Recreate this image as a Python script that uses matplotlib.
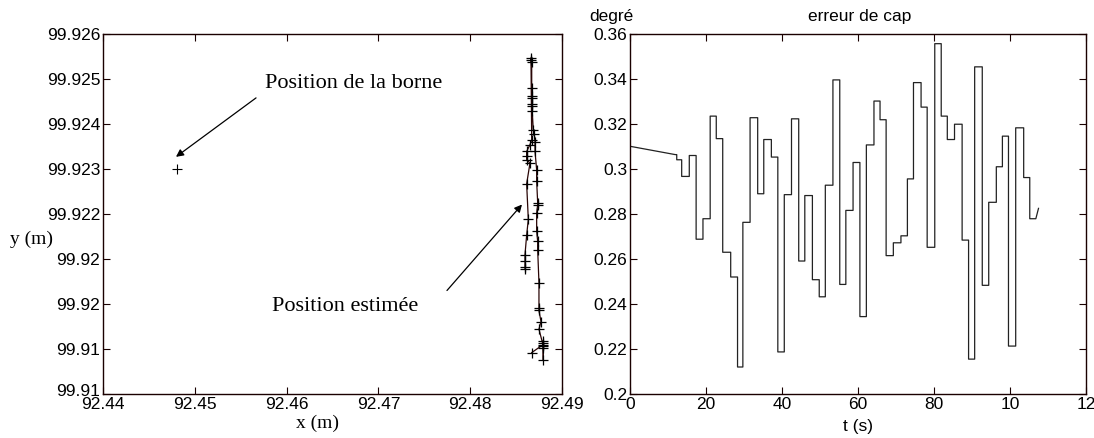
import numpy as np
import matplotlib
matplotlib.use("Agg")
import matplotlib.pyplot as plt
import matplotlib.transforms as mtransforms

# ---- Estimated positions (m) ----
pos_x = [92.48670, 92.48796, 92.48796, 92.48796, 92.48796, 92.48796, 92.48796,
         92.48749, 92.48771, 92.48749, 92.48749, 92.48749, 92.48735, 92.48735,
         92.48724, 92.48724, 92.48735, 92.48735, 92.48724, 92.48724, 92.48706,
         92.48706, 92.48698, 92.48687, 92.48676, 92.48670, 92.48670, 92.48670,
         92.48670, 92.48670, 92.48670, 92.48662, 92.48662,
         92.48670, 92.48651, 92.48615, 92.48615, 92.48615, 92.48651, 92.48615,
         92.48633, 92.48615, 92.48597, 92.48597, 92.48597, 92.48597]
pos_y = [99.91892, 99.91910, 99.91918, 99.91903, 99.91876, 99.91914, 99.91907,
         99.91944, 99.91961, 99.91986, 99.91992, 99.92047, 99.92121, 99.92139,
         99.92162, 99.92202, 99.92221, 99.92225, 99.92273, 99.92298, 99.92339,
         99.92361, 99.92378, 99.92387, 99.92428, 99.92441, 99.92444, 99.92457,
         99.92463, 99.92481, 99.92537, 99.92542, 99.92547,
         99.92365, 99.92354, 99.92339, 99.92328, 99.92321, 99.92313, 99.92267,
         99.92188, 99.92153, 99.92110, 99.92095, 99.92083, 99.92078]

# Beacon position (m)
borne_x = 92.44806
borne_y = 99.92300

# Left-axis ticks
xy_xticks = [92.44, 92.45, 92.46, 92.47, 92.48, 92.49]
xy_xticklabels = ["92.44", "92.45", "92.46", "92.47", "92.48", "92.49"]
xy_yticks = [99.918, 99.919, 99.920, 99.921, 99.922, 99.923, 99.924, 99.925, 99.926]
xy_yticklabels = ["99.91", "99.91", "99.92", "99.92", "99.922", "99.923",
                  "99.924", "99.925", "99.926"]

# ---- Heading error (degrees) ----
cap_t0, cap_v0 = 0.0, 0.3101
cap_t1, cap_v1 = 11.9, 0.3064
cap_switch_t = [12.3, 13.6, 15.6, 17.4, 19.2, 21.1, 22.7, 24.4, 26.5, 28.3,
                29.7, 31.6, 33.6, 35.2, 37.2, 38.9, 40.6, 42.5, 44.4, 46.0,
                48.0, 49.8, 51.4, 53.4, 55.2, 56.8, 58.7, 60.5, 62.2, 64.2,
                65.8, 67.4, 69.3, 71.3, 73.0, 74.6, 76.6, 78.2, 80.2, 81.9,
                83.5, 85.4, 87.4, 89.1, 90.7, 92.7, 94.4, 96.4, 98.0, 99.6,
                101.5, 103.6, 105.2]
cap_switch_v = [0.3041, 0.2967, 0.3060, 0.2688, 0.2779, 0.3235, 0.3135, 0.2630,
                0.2520, 0.2120, 0.2763, 0.3228, 0.2890, 0.3131, 0.3053, 0.2187,
                0.2886, 0.3223, 0.2591, 0.2882, 0.2508, 0.2432, 0.2928, 0.3396,
                0.2487, 0.2816, 0.3029, 0.2344, 0.3107, 0.3302, 0.3219, 0.2615,
                0.2672, 0.2703, 0.2956, 0.3384, 0.3275, 0.2652, 0.3557, 0.3235,
                0.3131, 0.3199, 0.2684, 0.2155, 0.3454, 0.2483, 0.2852, 0.3010,
                0.3146, 0.2213, 0.3183, 0.2962, 0.2779]
cap_tend_hold, cap_tend, cap_vend = 106.8, 107.5, 0.2825

cap_xticks = [0, 20, 40, 60, 80, 100, 120]
cap_xticklabels = ["0", "20", "40", "60", "80", "10", "12"]
cap_yticks = [0.20, 0.22, 0.24, 0.26, 0.28, 0.30, 0.32, 0.34, 0.36]
cap_yticklabels = ["0.2", "0.22", "0.24", "0.26", "0.28", "0.3", "0.32", "0.34", "0.36"]

SANS = ["Liberation Sans", "DejaVu Sans"]
SERIF = ["Liberation Serif", "DejaVu Serif"]
plt.rcParams["font.family"] = SANS

W, H = 1094, 438
fig = plt.figure(figsize=(W / 100, H / 100), dpi=100)
fig.patch.set_facecolor("white")

spine_col = "#1a0000"


def style_axes(ax):
    for s in ax.spines.values():
        s.set_color(spine_col)
        s.set_linewidth(1.0)
    ax.tick_params(direction="in", length=5, width=0.8, color=spine_col,
                   top=True, right=True, labelsize=12.5, pad=2,
                   labelcolor="black")


# ---------------- Left: positions ----------------
ax1 = fig.add_axes([103 / W, 1 - 394 / H, 459 / W, 360 / H])
style_axes(ax1)
ax1.plot(pos_x, pos_y, "-", color="#2a0606", lw=0.9, zorder=2)
ax1.plot(pos_x, pos_y, "+", color="black", ms=6.5, mew=0.9, zorder=3)
ax1.plot([borne_x], [borne_y], "+", color="black", ms=6.5, mew=0.8)
ax1.set_xlim(92.44, 92.49)
ax1.set_ylim(99.918, 99.926)
ax1.set_xticks(xy_xticks)
ax1.set_xticklabels(xy_xticklabels)
ax1.set_yticks(xy_yticks)
ax1.set_yticklabels(xy_yticklabels)

# lift the lowest y label a little so it clears the first x label
low_lbl = ax1.get_yticklabels()[0]
low_lbl.set_transform(low_lbl.get_transform() +
                      mtransforms.ScaledTranslation(0, 4 / 100, fig.dpi_scale_trans))

arrow = dict(arrowstyle="-|>", mutation_scale=11, lw=0.9, color="black",
             shrinkA=0, shrinkB=0)
ax1.annotate("", xy=(92.44795, 99.92327), xytext=(92.45667, 99.92458),
             arrowprops=arrow)
ax1.text(92.45765, 99.92491, "Position de la borne", family=SERIF,
         fontsize=16, ha="left", va="center")
ax1.annotate("", xy=(92.48564, 99.92221), xytext=(92.47747, 99.92030),
             arrowprops=arrow)
ax1.text(92.45841, 99.91995, "Position estimée", family=SERIF,
         fontsize=16, ha="left", va="center")

fig.text(318 / W, 1 - 423 / H, "x (m)", family=SERIF, fontsize=14,
         ha="center", va="center")
fig.text(31 / W, 1 - 239 / H, "y (m)", family=SERIF, fontsize=14,
         ha="center", va="center")

# ---------------- Right: heading error ----------------
ax2 = fig.add_axes([630 / W, 1 - 394 / H, 456 / W, 360 / H])
style_axes(ax2)

# zero-order hold trace, with straight joins at both ends
tx = [cap_t0, cap_t1]
vy = [cap_v0, cap_v1]
prev = cap_v1
for t, v in zip(cap_switch_t, cap_switch_v):
    tx += [t, t]
    vy += [prev, v]
    prev = v
tx += [cap_tend_hold, cap_tend]
vy += [prev, cap_vend]
ax2.plot(tx, vy, "-", color="#222222", lw=0.9)

ax2.set_xlim(0, 120)
ax2.set_ylim(0.2, 0.36)
ax2.set_xticks(cap_xticks)
ax2.set_xticklabels(cap_xticklabels)
ax2.set_yticks(cap_yticks)
ax2.set_yticklabels(cap_yticklabels)

fig.text(858 / W, 1 - 426 / H, "t (s)", fontsize=12.5, ha="center", va="center")
fig.text(611 / W, 1 - 16 / H, "degré", fontsize=12.5, ha="center", va="center")
fig.text(860 / W, 1 - 16 / H, "erreur de cap", fontsize=12.5, ha="center",
         va="center")

fig.savefig("out.png", dpi=100, facecolor="white")
